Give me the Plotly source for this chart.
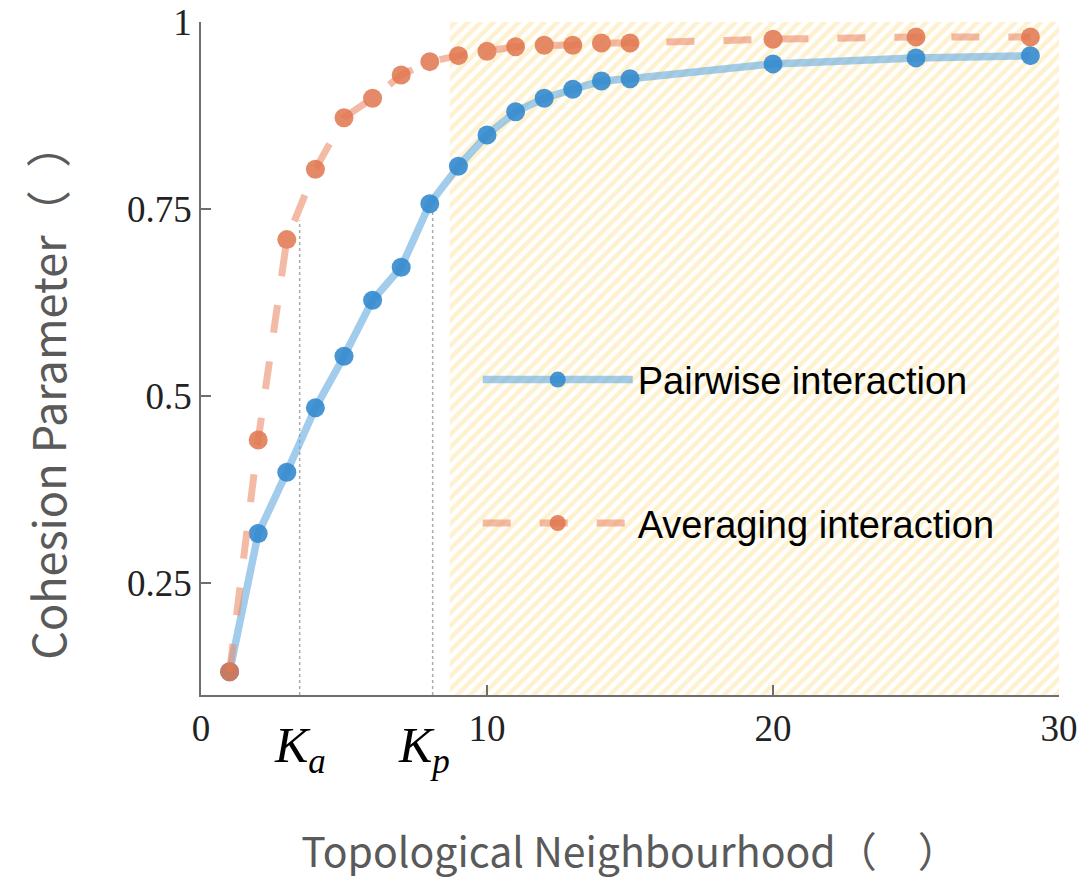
import plotly.graph_objects as go

# ---- data ----
k_values = [1, 2, 3, 4, 5, 6, 7, 8, 9, 10, 11, 12, 13, 14, 15, 20, 25, 29]
pairwise = [0.131, 0.316, 0.398, 0.484, 0.553, 0.628, 0.672, 0.757, 0.807, 0.849,
            0.880, 0.898, 0.910, 0.921, 0.924, 0.944, 0.952, 0.955]
averaging = [0.131, 0.441, 0.709, 0.803, 0.872, 0.898, 0.929, 0.947, 0.955, 0.961,
             0.967, 0.969, 0.969, 0.972, 0.972, 0.977, 0.980, 0.980]

k_a, k_a_top = 3.45, 0.735
k_p, k_p_top = 8.1, 0.745
hatch_x = [8.7, 30, 30, 8.7]
hatch_y = [0.1, 0.1, 1.0, 1.0]

x_tickvals = [0, 10, 20, 30]
x_ticktext = ["0", "10", "20", "30"]
y_tickvals = [0.25, 0.5, 0.75, 1]
y_ticktext = ["0.25", "0.5", "0.75", "1"]

names = ["Pairwise interaction", "Averaging interaction"]

fig = go.Figure()

# hatched region
fig.add_trace(go.Scatter(
    x=hatch_x, y=hatch_y, fill="toself", mode="none",
    fillcolor="rgba(255,255,255,0)",
    fillpattern=dict(shape="/", fgcolor="#FCE3A0", bgcolor="white", size=9, solidity=0.5),
    showlegend=False, hoverinfo="skip"))

# dotted reference lines
fig.add_trace(go.Scatter(x=[k_a, k_a], y=[0.1, k_a_top], mode="lines",
                         line=dict(color="#AAAAAA", width=1.5, dash="dot"),
                         showlegend=False, hoverinfo="skip"))
fig.add_trace(go.Scatter(x=[k_p, k_p], y=[0.1, k_p_top], mode="lines",
                         line=dict(color="#AAAAAA", width=1.5, dash="dot"),
                         showlegend=False, hoverinfo="skip"))

fig.add_trace(go.Scatter(
    x=k_values, y=pairwise, mode="lines+markers", name=names[0], legendgroup="p",
    line=dict(color="rgba(100,170,222,0.6)", width=7.5),
    marker=dict(color="rgba(52,138,206,0.9)", size=19)))

fig.add_trace(go.Scatter(
    x=k_values, y=averaging, mode="lines+markers", name=names[1], legendgroup="a",
    line=dict(color="rgba(235,140,105,0.6)", width=7, dash="28px,29px"),
    marker=dict(color="rgba(224,118,78,0.85)", size=19)))

# K labels
fig.add_annotation(x=k_a, y=0, xref="x", yref="paper", yshift=-20, yanchor="top",
                   text="<i>K</i><sub><i>a</i></sub>", showarrow=False,
                   font=dict(family="Liberation Serif", size=50, color="black"))
fig.add_annotation(x=k_p - 0.3, y=0, xref="x", yref="paper", yshift=-20, yanchor="top",
                   text="<i>K</i><sub><i>p</i></sub>", showarrow=False,
                   font=dict(family="Liberation Serif", size=50, color="black"))

# y axis title
fig.add_annotation(x=-0.1795, y=0.452, xref="paper", yref="paper",
                   text="Cohesion Parameter（\u2002）", textangle=-90, showarrow=False,
                   xanchor="center", yanchor="middle",
                   font=dict(family="Noto Sans CJK SC", size=45, color="#5A5A5A"))

axis_common = dict(showline=True, linecolor="#6E6E6E", linewidth=1.5,
                   ticks="inside", ticklen=10, tickcolor="#6E6E6E", tickwidth=1.5,
                   showgrid=False, zeroline=False,
                   tickfont=dict(family="Liberation Serif", size=37, color="#222222"))

fig.update_xaxes(range=[0, 30], tickvals=x_tickvals, ticktext=x_ticktext,
                 title=dict(text="Topological Neighbourhood（\u3000）", standoff=90,
                            font=dict(family="Noto Sans CJK SC", size=41, color="#5A5A5A")),
                 **axis_common)
fig.update_yaxes(range=[0.1, 1], tickvals=y_tickvals, ticktext=y_ticktext,
                 **axis_common)

fig.update_layout(
    width=1087, height=880,
    margin=dict(l=201, r=28, t=22, b=185, autoexpand=False),
    plot_bgcolor="white", paper_bgcolor="white",
    legend=dict(x=0.3225, y=0.515, xanchor="left", yanchor="top",
                bgcolor="rgba(0,0,0,0)", tracegroupgap=91, itemwidth=150,
                font=dict(family="Liberation Sans", size=38, color="black")),
)

fig.write_html("out.html")
